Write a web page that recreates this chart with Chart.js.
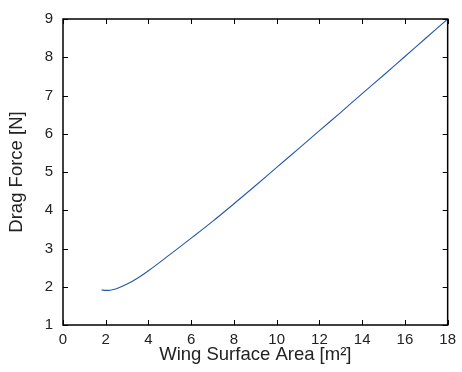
<!DOCTYPE html>
<html>
<head>
<meta charset="utf-8">
<script src="https://cdn.jsdelivr.net/npm/chart.js@4"></script>
<style>
    body { margin: 0; background: #fff; }
    #wrap { width: 462px; height: 372px; }
</style>
</head>
<body>
<div id="wrap"><canvas id="chart" width="462" height="372"></canvas></div>
<script>
const wingArea = [1.8, 2.0, 2.2, 2.5, 3.0, 3.5, 4.0, 5.0, 6.0, 7.0, 8.0, 9.0, 10.0, 11.0, 12.0, 13.0, 14.0, 15.0, 16.0, 17.0, 18.0];
const dragForce = [1.915, 1.905, 1.91, 1.95, 2.07, 2.23, 2.42, 2.84, 3.27, 3.71, 4.17, 4.64, 5.12, 5.60, 6.08, 6.56, 7.05, 7.53, 8.02, 8.51, 9.00];
const xTicks = [0, 2, 4, 6, 8, 10, 12, 14, 16, 18];
const yTicks = [1, 2, 3, 4, 5, 6, 7, 8, 9];

const FONT = "'Liberation Sans', Arial, sans-serif";

// frame box with inward tick marks on all four sides
const frameTicks = {
    id: "frameTicks",
    afterDraw(chart) {
        const { ctx, chartArea: a, scales } = chart;
        const len = 5;
        ctx.save();
        ctx.strokeStyle = "#000";
        ctx.lineWidth = 1;
        ctx.beginPath();
        xTicks.forEach(v => {
            const px = Math.round(scales.x.getPixelForValue(v)) + 0.5;
            ctx.moveTo(px, a.bottom); ctx.lineTo(px, a.bottom - len);
            ctx.moveTo(px, a.top); ctx.lineTo(px, a.top + len);
        });
        yTicks.forEach(v => {
            const py = Math.round(scales.y.getPixelForValue(v)) + 0.5;
            ctx.moveTo(a.left, py); ctx.lineTo(a.left + len, py);
            ctx.moveTo(a.right, py); ctx.lineTo(a.right - len, py);
        });
        ctx.stroke();
        ctx.lineWidth = 1.5;
        ctx.strokeRect(a.left, a.top, a.right - a.left, a.bottom - a.top);
        ctx.restore();
    }
};

new Chart(document.getElementById("chart"), {
    type: "scatter",
    data: {
        datasets: [{
            data: wingArea.map((x, i) => ({ x: x, y: dragForce[i] })),
            showLine: true,
            borderColor: "#2457b0",
            borderWidth: 1.1,
            pointRadius: 0,
            tension: 0.4
        }]
    },
    options: {
        responsive: false,
        animation: false,
        layout: { padding: { top: 17, right: 7, left: 6, bottom: 6 } },
        plugins: {
            legend: { display: false },
            tooltip: { enabled: false }
        },
        scales: {
            x: {
                type: "linear",
                min: 0,
                max: 18,
                afterBuildTicks: s => { s.ticks = xTicks.map(v => ({ value: v })); },
                afterFit: s => { s.height = 41; },
                grid: { display: false, drawTicks: false },
                border: { display: false },
                ticks: { color: "#222", padding: 6, font: { family: FONT, size: 15 } },
                title: {
                    display: true,
                    text: "Wing Surface Area [m²]",
                    color: "#222",
                    padding: { top: 0, bottom: 0 },
                    font: { family: FONT, size: 18.5 }
                }
            },
            y: {
                type: "linear",
                min: 1,
                max: 9,
                afterBuildTicks: s => { s.ticks = yTicks.map(v => ({ value: v })); },
                afterFit: s => { s.width = 57; },
                grid: { display: false, drawTicks: false },
                border: { display: false },
                ticks: { color: "#222", padding: 10, font: { family: FONT, size: 15 } },
                title: {
                    display: true,
                    text: "Drag Force [N]",
                    color: "#222",
                    padding: { top: 0, bottom: 4 },
                    font: { family: FONT, size: 18.5 }
                }
            }
        }
    },
    plugins: [frameTicks]
});
</script>
</body>
</html>
